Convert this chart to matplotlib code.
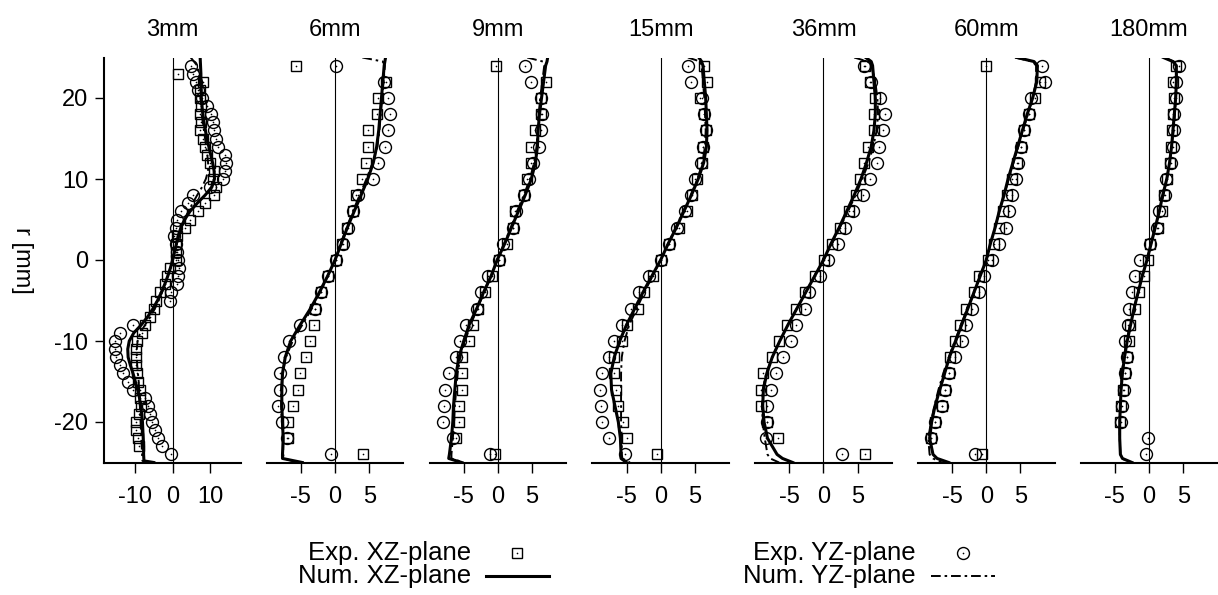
import numpy as np
import matplotlib
matplotlib.use("Agg")
import matplotlib.pyplot as plt
from matplotlib.lines import Line2D

plt.rcParams['font.family'] = ['Liberation Sans', 'DejaVu Sans']
plt.rcParams['axes.unicode_minus'] = False

nan = np.nan

# ---------------------------------------------------------------- data
stations = ["3mm", "6mm", "9mm", "15mm", "36mm", "60mm", "180mm"]

# radial measurement positions [mm]
r_exp_fine = list(range(24, -25, -1))      # 3mm station, 1 mm spacing
r_exp = list(range(24, -25, -2))           # downstream stations, 2 mm spacing
# radial positions of the simulated profiles [mm]
r_num_fine = list(range(25, -25, -1)) + [-24.8, -25]
r_num = [25, 24.5, 24] + list(range(22, -25, -2)) + [-24.5, -25]

# 3 mm
xz_exp_3mm = [nan, 1.5, 8.1, 7.2, 7.2, 7.6, 7.2, 7.5, 7.2, 8.0, 8.6, 9.0, 9.9, 10.9, 10.6,
              11.5, 10.9, 8.6, 6.6, 4.6, 3.3, 1.2, 0.9, 0.9, 0.9, -0.7, -1.6, -2.0, -3.4,
              -4.3, -4.9, -6.0, -7.3, -8.2, -9.5, -9.6, -9.6, -9.6, -9.4, -9.3, -8.7, -8.6,
              -8.4, -9.0, -9.6, -9.6, -9.2, -9.0, nan]
yz_exp_3mm = [5.0, 5.5, 6.2, 6.8, 7.8, 9.2, 10.3, 10.6, 10.9, 11.6, 12.1, 13.9, 14.1, 13.9,
              13.3, 10.0, 5.3, 4.1, 2.1, 1.2, 0.9, 0.35, 0.9, 1.2, 1.5, 1.8, 1.5, 1.2, -0.3,
              -0.7, nan, nan, -10.4, -14.0, -15.3, -15.3, -14.9, -14.0, -13.1, -11.8, -10.4,
              -7.3, -6.5, -6.0, -5.6, -4.7, -3.8, -2.9, -0.3]
xz_num_3mm = [7.3, 7.4, 7.5, 7.5, 7.6, 7.6, 7.8, 8.0, 8.3, 8.7, 9.1, 9.6, 10.1, 10.6, 11.0,
              11.1, 10.4, 8.6, 6.5, 4.6, 3.2, 2.2, 1.5, 1.0, 0.5, 0.0, -0.6, -1.3, -2.1,
              -3.0, -4.0, -5.2, -6.6, -8.3, -10.3, -11.5, -11.9, -11.8, -11.2, -10.5, -9.9,
              -9.3, -8.8, -8.5, -8.2, -8.0, -7.9, -7.8, -7.7, -7.7, -7.6, -5.0]
yz_num_3mm = [4.8, 6.5, 7.0, 7.2, 7.3, 7.4, 7.5, 7.7, 8.0, 8.3, 8.6, 8.9, 9.2, 9.4, 9.4,
              8.8, 7.8, 6.5, 5.3, 4.2, 3.3, 2.5, 1.8, 1.1, 0.5, 0.0, -0.6, -1.3, -2.0,
              -2.8, -3.7, -4.7, -5.9, -7.3, -8.6, -9.3, -9.5, -9.5, -9.4, -9.2, -9.0,
              -8.9, -8.8, -8.7, -8.6, -8.5, -8.4, -8.3, -8.2, -8.1, -8.0, -6.0]

# 6 mm
xz_exp_6mm = [-5.7, 7.5, 6.3, 6.1, 4.9, 4.9, 4.6, 4.0, 3.1, 2.6, 1.8, 1.0, 0.2, -1.0, -2.1,
              -2.9, -3.1, -3.6, -4.3, -5.1, -5.4, -6.1, -6.9, -6.9, 4.1]
yz_exp_6mm = [0.2, 7.1, 7.8, 8.0, 7.8, 7.3, 6.3, 5.5, 3.3, 2.6, 1.9, 1.2, 0.2, -1.1, -2.1,
              -2.9, -5.1, -6.8, -7.5, -8.1, -8.0, -8.3, -7.8, -7.0, -0.6]
xz_num_6mm = [7.4, 7.3, 7.2, 7.0, 6.8, 6.6, 6.4, 6.1, 5.6, 4.8, 3.8, 2.8, 1.8, 0.9, 0.0,
              -1.1, -2.3, -3.6, -5.1, -6.5, -7.3, -7.7, -7.8, -7.8, -7.7, -7.6, -7.7, -7.7, -4.8]
yz_num_6mm = [4.0, 7.0, 7.3, 7.1, 6.9, 6.7, 6.5, 6.2, 5.5, 4.6, 3.6, 2.6, 1.7, 0.8, 0.0,
              -1.1, -2.2, -3.4, -4.8, -6.2, -7.2, -7.7, -7.9, -7.9, -7.8, -7.6, -7.6, -7.5, -5.5]

# 9 mm
xz_exp_9mm = [-0.3, 7.1, 6.3, 6.3, 5.4, 4.9, 4.8, 4.3, 3.8, 2.5, 2.2, 1.3, 0.1, -0.9, -1.9,
              -2.9, -3.7, -4.2, -5.2, -5.3, -5.3, -5.7, -5.7, -6.1, -0.4]
yz_exp_9mm = [4.0, 4.9, 6.3, 6.4, 6.3, 6.1, 5.2, 4.5, 3.8, 2.7, 2.2, 0.7, 0.1, -1.4, -2.4,
              -3.1, -4.7, -5.6, -6.2, -7.1, -7.8, -7.9, -8.0, -6.5, -1.2]
xz_num_9mm = [7.3, 7.2, 7.0, 6.7, 6.4, 6.1, 5.9, 5.8, 5.5, 4.9, 4.0, 3.0, 2.0, 1.0, -0.1,
              -1.0, -2.1, -3.1, -4.2, -5.0, -5.7, -6.1, -6.3, -6.5, -6.6, -6.8, -7.1, -7.2, -5.3]
yz_num_9mm = [4.3, 6.6, 6.8, 6.5, 6.2, 6.0, 5.8, 5.7, 5.3, 4.7, 3.8, 2.8, 1.9, 0.9, -0.1,
              -1.0, -2.0, -3.0, -4.0, -4.8, -5.5, -5.9, -6.1, -6.3, -6.4, -6.6, -6.8, -6.8, -5.0]

# 15 mm
xz_exp_15mm = [6.4, 6.8, 5.8, 6.4, 6.6, 6.2, 6.1, 5.3, 4.6, 3.8, 2.7, 1.2, 0.1, -1.1, -2.5,
               -3.3, -5.0, -5.7, -6.8, -6.8, -6.6, -6.2, -5.5, -5.0, -0.5]
yz_exp_15mm = [4.0, 4.5, 6.1, 6.3, 6.6, 6.2, 5.9, 5.1, 4.4, 3.5, 2.4, 1.2, 0.0, -1.7, -3.2,
               -4.4, -5.7, -6.9, -7.6, -8.6, -8.9, -8.8, -8.6, -7.6, -5.2]
xz_num_15mm = [5.6, 6.0, 6.2, 6.4, 6.6, 6.7, 6.8, 6.7, 6.3, 5.5, 4.5, 3.4, 2.3, 1.1, 0.0,
               -1.3, -2.6, -3.8, -5.0, -6.0, -6.8, -7.3, -7.2, -6.7, -6.2, -5.9, -5.8, -5.8, -5.0]
yz_num_15mm = [4.0, 5.8, 6.0, 6.2, 6.4, 6.5, 6.6, 6.5, 6.1, 5.4, 4.4, 3.3, 2.2, 1.1, 0.0,
               -1.2, -2.4, -3.5, -4.6, -5.3, -5.7, -5.8, -5.8, -5.8, -5.8, -5.7, -5.7, -5.6, -4.5]

# 36 mm
xz_exp_36mm = [6.1, 6.8, 7.6, 7.4, 7.4, 6.6, 6.0, 5.4, 4.7, 3.7, 2.4, 1.2, 0.1, -1.2, -2.7,
               -4.0, -5.4, -6.5, -7.6, -8.8, -9.2, -9.1, -8.3, -6.6, 6.1]
yz_exp_36mm = [6.0, 7.0, 8.3, 9.0, 8.7, 8.2, 7.8, 6.8, 5.8, 4.4, 3.2, 2.2, 0.6, -0.5, -2.1,
               -2.7, -4.0, -4.8, -5.9, -7.0, -7.7, -8.2, -8.3, -8.4, 2.7]
xz_num_36mm = [6.2, 7.0, 7.2, 7.4, 7.6, 7.6, 7.4, 7.0, 6.3, 5.5, 4.5, 3.4, 2.3, 1.1, 0.0,
               -1.3, -2.6, -3.9, -5.2, -6.4, -7.5, -8.3, -8.8, -8.9, -8.7, -8.2, -6.8, -6.0, -4.5]
yz_num_36mm = [4.5, 6.5, 7.0, 7.6, 7.9, 8.0, 7.8, 7.3, 6.6, 5.7, 4.7, 3.6, 2.4, 1.2, 0.0,
               -1.3, -2.6, -3.9, -5.2, -6.4, -7.5, -8.4, -8.9, -9.0, -8.9, -8.6, -8.2, -7.8, -6.5]

# 60 mm
xz_exp_60mm = [0.0, 7.9, 7.2, 6.2, 5.5, 5.1, 4.5, 3.8, 3.1, 2.5, 1.8, 1.2, 0.3, -1.0, -1.8,
               -2.9, -3.8, -4.6, -5.3, -5.5, -6.0, -6.5, -7.5, -8.1, -0.6]
yz_exp_60mm = [8.2, 8.6, 6.5, 6.3, 5.5, 5.1, 4.6, 4.3, 3.8, 3.3, 2.9, 1.8, 0.8, -0.4, -1.1,
               -2.1, -2.9, -3.6, -4.6, -5.4, -6.0, -6.5, -7.5, -8.1, -1.6]
xz_num_60mm = [4.5, 7.0, 7.5, 7.4, 6.8, 6.0, 5.3, 4.6, 3.9, 3.2, 2.6, 1.9, 1.3, 0.6, 0.0,
               -0.9, -1.8, -2.7, -3.6, -4.5, -5.4, -6.1, -6.8, -7.5, -8.0, -8.3, -7.8, -7.2, -5.5]
yz_num_60mm = [4.2, 6.8, 7.3, 7.3, 6.8, 6.1, 5.4, 4.7, 4.0, 3.3, 2.6, 1.9, 1.3, 0.6, 0.0,
               -0.9, -1.8, -2.8, -3.7, -4.6, -5.5, -6.3, -7.0, -7.6, -8.1, -8.5, -8.3, -7.8, -6.5]

# 180 mm
xz_exp_180mm = [3.9, 3.5, 3.6, 3.5, 3.4, 3.2, 3.0, 2.6, 2.2, 1.9, 1.3, 0.2, -0.2, -0.8, -1.4,
                -2.0, -2.8, -3.0, -3.2, -3.5, -3.8, -4.1, -4.2, nan, nan]
yz_exp_180mm = [4.4, 4.0, 3.9, 3.7, 3.6, 3.5, 3.2, 2.5, 2.4, 1.5, 1.2, 0.2, -1.3, -2.0, -2.5,
                -3.0, -3.1, -3.5, -3.3, -3.5, -3.7, -4.0, -4.1, -0.2, -0.4]
xz_num_180mm = [2.1, 3.5, 4.0, 4.0, 3.9, 3.7, 3.5, 3.3, 3.0, 2.6, 2.0, 1.5, 0.9, 0.3, -0.3,
                -1.0, -1.6, -2.2, -2.7, -3.2, -3.6, -3.9, -4.1, -4.2, -4.3, -4.3, -4.2, -3.9, -2.5]
yz_num_180mm = [2.3, 3.6, 4.0, 4.0, 3.9, 3.8, 3.6, 3.3, 3.0, 2.6, 2.1, 1.5, 0.9, 0.3, -0.3,
                -1.0, -1.6, -2.2, -2.8, -3.3, -3.7, -4.0, -4.1, -4.2, -4.3, -4.3, -4.2, -4.0, -2.6]

exp_xz = [xz_exp_3mm, xz_exp_6mm, xz_exp_9mm, xz_exp_15mm, xz_exp_36mm, xz_exp_60mm, xz_exp_180mm]
exp_yz = [yz_exp_3mm, yz_exp_6mm, yz_exp_9mm, yz_exp_15mm, yz_exp_36mm, yz_exp_60mm, yz_exp_180mm]
num_xz = [xz_num_3mm, xz_num_6mm, xz_num_9mm, xz_num_15mm, xz_num_36mm, xz_num_60mm, xz_num_180mm]
num_yz = [yz_num_3mm, yz_num_6mm, yz_num_9mm, yz_num_15mm, yz_num_36mm, yz_num_60mm, yz_num_180mm]

x_ticks_first = [-10, 0, 10]
x_ticks_rest = [-5, 0, 5]
y_ticks = [-20, -10, 0, 10, 20]

# ---------------------------------------------------------------- layout
W, H = 1218, 595
FS = 17
FS_KEY = 18.5
fig = plt.figure(figsize=(W / 100, H / 100), dpi=100)


def fx(px):
    return px / W


def fy(py):
    return 1 - py / H


PANEL_W = 136.5
PANEL_STEP = 162.8
TOP, BOTTOM = 57.5, 462.5

sq_style = dict(ls='none', marker='s', ms=7.8, mfc='none', mec='black', mew=1.0)
ci_style = dict(ls='none', marker='o', ms=8.6, mfc='none', mec='black', mew=1.0)
dot_style = dict(ls='none', marker='o', ms=1.2, mfc='black', mec='black', mew=0)
solid_style = dict(color='black', lw=2.2, solid_joinstyle='round')
dashdot_style = dict(color='black', lw=1.4, dashes=(5, 2, 1.3, 2))

for i, st in enumerate(stations):
    left = 104 + i * PANEL_STEP
    ax = fig.add_axes([fx(left), fy(BOTTOM), PANEL_W / W, (BOTTOM - TOP) / H])
    re = r_exp_fine if i == 0 else r_exp
    rn = r_num_fine if i == 0 else r_num

    ax.axvline(0, color='black', lw=0.8, zorder=1)
    ax.plot(exp_xz[i], re, **sq_style, zorder=2)
    ax.plot(exp_xz[i], re, **dot_style, zorder=2)
    ax.plot(num_xz[i], rn, **solid_style, zorder=3)
    ax.plot(exp_yz[i], re, **ci_style, zorder=4)
    ax.plot(exp_yz[i], re, **dot_style, zorder=4)
    ax.plot(num_yz[i], rn, **dashdot_style, zorder=5)

    ax.set_ylim(-25, 25)
    if i == 0:
        ax.set_xlim(-18.2, 18.0)
        ax.set_xticks(x_ticks_first)
        ax.set_yticks(y_ticks)
        ax.spines['left'].set_linewidth(1.5)
        ax.tick_params(axis='y', direction='out', length=6.5, width=1.0,
                       pad=5, labelsize=FS)
    else:
        ax.set_xlim(-10, 10)
        ax.set_xticks(x_ticks_rest)
        ax.set_yticks([])
        ax.spines['left'].set_visible(False)
    ax.spines['top'].set_visible(False)
    ax.spines['right'].set_visible(False)
    ax.spines['bottom'].set_linewidth(1.5)
    ax.tick_params(axis='x', direction='out', length=7.2, width=1.0,
                   pad=10, labelsize=FS)
    ax.patch.set_visible(False)

    fig.text(fx(left + PANEL_W / 2), fy(30), st, ha='center', va='center', fontsize=FS)

fig.text(fx(22), fy(260), 'r [mm]', rotation=270, ha='center', va='center', fontsize=FS)

# ---------------------------------------------------------------- key
key_rows = (fy(553), fy(576))
key_cols = [(471, 517, 486, 549, 'XZ'), (916, 963, 931, 995, 'YZ')]
for text_right, mark_x, line_x0, line_x1, plane in key_cols:
    fig.text(fx(text_right), key_rows[0], f'Exp. {plane}-plane', ha='right',
             va='center', fontsize=FS_KEY)
    fig.text(fx(text_right), key_rows[1], f'Num. {plane}-plane', ha='right',
             va='center', fontsize=FS_KEY)
    mstyle = sq_style if plane == 'XZ' else ci_style
    lstyle = solid_style if plane == 'XZ' else dashdot_style
    fig.add_artist(Line2D([fx(mark_x)], [key_rows[0]], **mstyle))
    fig.add_artist(Line2D([fx(mark_x)], [key_rows[0]], **dot_style))
    fig.add_artist(Line2D([fx(line_x0), fx(line_x1)], [key_rows[1]] * 2, **lstyle))

fig.savefig('out.png', dpi=100)
